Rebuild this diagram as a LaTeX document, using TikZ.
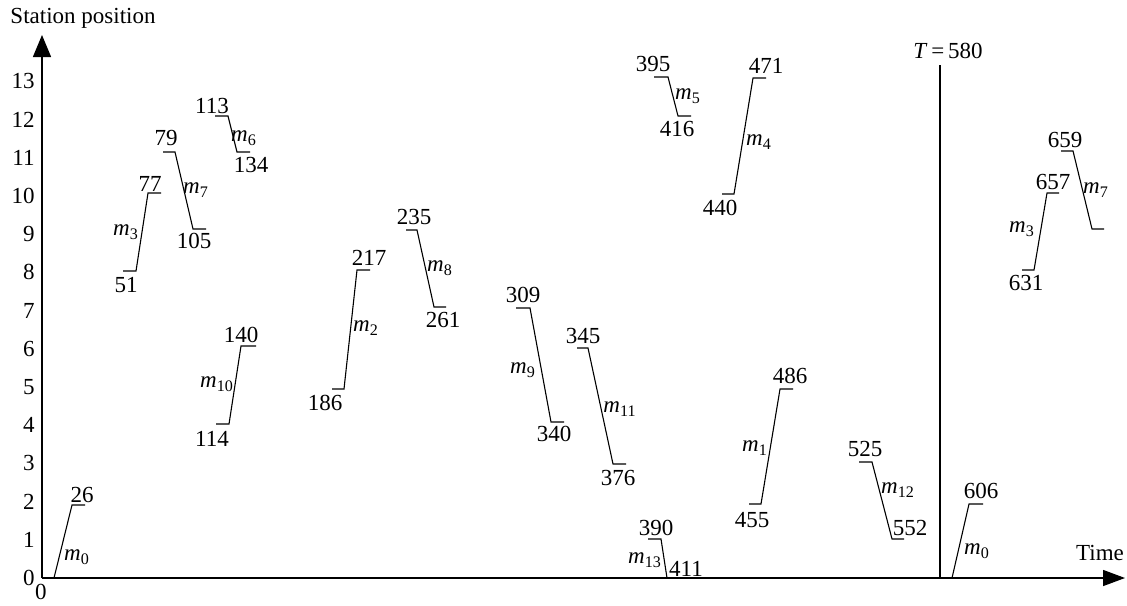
\documentclass[tikz,border=0pt]{standalone}
\usepackage{fontspec}
\setmainfont{Liberation Serif}
\usetikzlibrary{arrows.meta}
\newcommand\mm[1]{\textit{m}\textsubscript{#1}}
\begin{document}
\begin{tikzpicture}[x=0.5pt,y=-0.5pt,
  seg/.style={line width=0.55pt},
  lab/.style={inner sep=0pt,font=\fontsize{11.5}{13}\selectfont},
  axis/.style={line width=0.7pt}]
\useasboundingbox (0,0) rectangle (1127,605);
% axes
\coordinate (O) at (42,578);
\coordinate (ytop) at (42,35);
\coordinate (xend) at (1125,578);
\draw[axis,-{Triangle[length=11pt,width=9pt]}] (O) -- (ytop);
\draw[axis,-{Triangle[length=11pt,width=8pt]}] (O) -- (xend);
\node[lab] (ylab) at (83,18) {Station position};
\node[lab] (xlab) at (1100,553) {Time};
\node[lab] (orig) at (41,592) {0};
\foreach \k in {0,...,13}{
  \node[lab,anchor=east] (t\k) at (35,{578-38.2*\k}) {\k};
}
% T line
\coordinate (Ttop) at (940,65);
\coordinate (Tbot) at (940,578);
\draw[seg] (Ttop) -- (Tbot);
\node[lab] (Tlab) at (948,51) {\textit{T}\,=\,580};
% m0
\draw[seg] (54,578) -- (72,505) -- (85,505);
\node[lab] at (82,495) {26};
\node[lab] at (77,557) {\mm{0}};
% m3
\draw[seg] (123,271) -- (136,271) -- (148,193) -- (161,193);
\node[lab] at (126,285) {51};
\node[lab] at (150,184) {77};
\node[lab] at (126,232) {\mm{3}};
% m7
\draw[seg] (163,152) -- (175,152) -- (193,229) -- (206,229);
\node[lab] at (166,138) {79};
\node[lab] at (194,241) {105};
\node[lab] at (196,190) {\mm{7}};
% m6
\draw[seg] (215,116) -- (228,116) -- (237,152) -- (250,152);
\node[lab] at (212,106) {113};
\node[lab] at (251,165) {134};
\node[lab] at (244,138) {\mm{6}};
% m10
\draw[seg] (216,424) -- (229,424) -- (241,346) -- (256,346);
\node[lab] at (212,439) {114};
\node[lab] at (241,335) {140};
\node[lab] at (217,384) {\mm{10}};
% m2
\draw[seg] (332,389) -- (344,389) -- (357,270) -- (370,270);
\node[lab] at (325,403) {186};
\node[lab] at (369,258) {217};
\node[lab] at (366,328) {\mm{2}};
% m8
\draw[seg] (406,230) -- (417,230) -- (434,307) -- (446,307);
\node[lab] at (414,217) {235};
\node[lab] at (443,320) {261};
\node[lab] at (440,268) {\mm{8}};
% m9
\draw[seg] (516,308) -- (530,308) -- (551,422) -- (564,422);
\node[lab] at (523,295) {309};
\node[lab] at (554,434) {340};
\node[lab] at (523,370) {\mm{9}};
% m11
\draw[seg] (577,348) -- (588,348) -- (613,464) -- (626,464);
\node[lab] at (583,336) {345};
\node[lab] at (618,478) {376};
\node[lab] at (620,409) {\mm{11}};
% m13
\draw[seg] (648,539) -- (661,539) -- (667,578);
\node[lab] at (656,528) {390};
\node[lab] at (686,569) {411};
\node[lab] at (645,560) {\mm{13}};
% m5
\draw[seg] (654,77) -- (668,77) -- (678,116) -- (691,116);
\node[lab] at (653,64) {395};
\node[lab] at (677,129) {416};
\node[lab] at (688,96) {\mm{5}};
% m4
\draw[seg] (722,194) -- (734,194) -- (753,78) -- (766,78);
\node[lab] at (720,208) {440};
\node[lab] at (766,66) {471};
\node[lab] at (759,142) {\mm{4}};
% m1
\draw[seg] (749,504) -- (761,504) -- (780,389) -- (793,389);
\node[lab] at (752,520) {455};
\node[lab] at (790,376) {486};
\node[lab] at (755,448) {\mm{1}};
% m12
\draw[seg] (859,462) -- (872,462) -- (892,539) -- (904,539);
\node[lab] at (865,449) {525};
\node[lab] at (910,528) {552};
\node[lab] at (898,490) {\mm{12}};
% m0 second
\draw[seg] (952,578) -- (969,504) -- (983,504);
\node[lab] at (981,491) {606};
\node[lab] at (977,551) {\mm{0}};
% m3 second
\draw[seg] (1022,270) -- (1034,270) -- (1047,193) -- (1059,193);
\node[lab] at (1026,283) {631};
\node[lab] at (1053,182) {657};
\node[lab] at (1022,229) {\mm{3}};
% m7 second
\draw[seg] (1061,151) -- (1073,151) -- (1092,229) -- (1104,229);
\node[lab] at (1065,140) {659};
\node[lab] at (1096,190) {\mm{7}};
\end{tikzpicture}
\end{document}
